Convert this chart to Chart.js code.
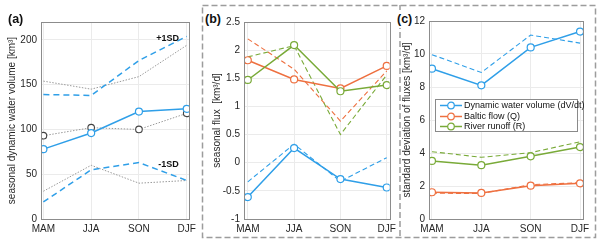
<!DOCTYPE html>
<html lang="en">
<head>
<meta charset="UTF-8">
<title>Seasonal fluxes</title>
<script src="https://cdn.jsdelivr.net/npm/chart.js"></script>
<style>
  body { margin: 0; background: #fff; font-family: "Liberation Sans", Arial, sans-serif; }
  #wrap { position: relative; width: 600px; height: 247px; overflow: hidden; }
  canvas { position: absolute; top: 0; }
  .lbl { position: absolute; font-weight: bold; font-size: 12.5px; color: #111; background: #fff; line-height: 14px; }
  #legend { position: absolute; left: 435px; top: 99px; width: 141px; height: 31px; border: 1px solid #8a8a8a; background: #fff; font-size: 9px; color: #111; }
  #legend div { height: 10.5px; line-height: 10.5px; white-space: nowrap; margin-top: 0; }
  #legend svg { vertical-align: middle; margin: 0 2px 0 4px; }
</style>
</head>
<body>
<div id="wrap">
  <svg width="600" height="247" style="position:absolute;left:0;top:0">
    <rect x="202.5" y="5.5" width="393" height="232" fill="none" stroke="#9c9c9c" stroke-width="1.5" stroke-dasharray="6 3"/>
    <line x1="400" y1="5" x2="400" y2="238" stroke="#9c9c9c" stroke-width="1.5" stroke-dasharray="6 3"/>
  </svg>
  <canvas id="ca" width="200" height="247" style="left:0"></canvas>
  <canvas id="cb" width="197" height="247" style="left:203px"></canvas>
  <canvas id="cc" width="196" height="247" style="left:400px"></canvas>
  <div class="lbl" style="left:8px;top:12px">(a)</div>
  <div class="lbl" style="left:205px;top:12px">(b)</div>
  <div class="lbl" style="left:396px;top:10px;padding:2px 1px">(c)</div>
  <div id="legend"></div>
</div>

<script>
  // seasons on the x axis
  const seasons = ['MAM', 'JJA', 'SON', 'DJF']

  // (a) seasonal dynamic water volume [km3]
  const volMean = [78, 96, 120, 123]
  const volPlus = [139, 138, 177, 204]
  const volMinus = [19, 55, 63, 43]
  const refMean = [93, 102, 100, 118]
  const refPlus = [154, 145, 159, 194]
  const refMinus = [31, 60, 40, 43]

  // (b) seasonal flux [km3/d], solid and dashed
  const fluxV = [-0.61, 0.26, -0.29, -0.44]
  const fluxVd = [-0.34, 0.33, -0.33, 0.09]
  const fluxQ = [1.82, 1.48, 1.32, 1.72]
  const fluxQd = [2.2, 1.66, 0.74, 1.63]
  const fluxR = [1.47, 2.09, 1.27, 1.38]
  const fluxRd = [1.88, 2.08, 0.5, 1.56]

  // (c) standard deviation of fluxes [km3/d]
  const sdV = [9.11, 8.1, 10.4, 11.36]
  const sdVd = [9.96, 8.88, 11.15, 10.66]
  const sdQ = [1.62, 1.58, 2.02, 2.16]
  const sdQd = [1.56, 1.55, 2.08, 2.2]
  const sdR = [3.52, 3.26, 3.8, 4.36]
  const sdRd = [4.08, 3.74, 4.02, 4.68]

  const blue = '#2f9fe8'
  const orange = '#ee7040'
  const green = '#79aa38'
  const font = { family: '"Liberation Sans", Arial, sans-serif', size: 10 }

  const pts = arr => arr.map((v, i) => ({ x: i, y: v }))

  function solid(arr, color) {
    return { data: pts(arr), borderColor: color, borderWidth: 1.5, pointRadius: 3.5,
      pointBorderWidth: 1.2, pointBackgroundColor: '#fff', pointBorderColor: color, tension: 0 }
  }
  function dashed(arr, color, w, dash) {
    return { data: pts(arr), borderColor: color, borderWidth: w, borderDash: dash, pointRadius: 0, tension: 0 }
  }

  // draws the full axes box like matlab
  const boxPlugin = {
    id: 'box',
    afterDraw(chart) {
      const a = chart.chartArea, c = chart.ctx
      c.save()
      c.strokeStyle = '#8c8c8c'
      c.lineWidth = 1
      c.strokeRect(Math.round(a.left) + 0.5, Math.round(a.top) + 0.5, Math.round(a.width), Math.round(a.height))
      c.restore()
    }
  }

  function makeChart(id, datasets, cfg) {
    return new Chart(document.getElementById(id), {
      type: 'line',
      data: { datasets },
      options: {
        responsive: false,
        animation: false,
        layout: { padding: { left: 0, right: cfg.right, top: cfg.top, bottom: 0 } },
        plugins: { legend: { display: false }, tooltip: { enabled: false } },
        scales: {
          x: {
            type: 'linear', min: cfg.xmin, max: cfg.xmax,
            afterBuildTicks: s => { s.ticks = seasons.map((_, i) => ({ value: i })) },
            afterFit: s => { s.height = 28 },
            ticks: { callback: v => seasons[v], font, color: '#262626', padding: 4, maxRotation: 0 },
            grid: { color: '#ebebeb', drawTicks: false },
            border: { display: false }
          },
          y: {
            min: cfg.ymin, max: cfg.ymax,
            afterBuildTicks: s => { s.ticks = cfg.yticks.map(v => ({ value: v })) },
            afterFit: s => { s.width = cfg.yw },
            ticks: { font, color: '#262626', padding: 4, callback: v => String(+v) },
            grid: { color: '#ebebeb', drawTicks: false },
            border: { display: false },
            title: { display: true, text: cfg.title, font, color: '#262626', padding: { top: cfg.tpad, bottom: 0 } }
          }
        }
      },
      plugins: [boxPlugin].concat(cfg.plugins || [])
    })
  }

  // +1SD / -1SD text in panel a
  const sdText = {
    id: 'sdText',
    afterDatasetsDraw(chart) {
      const c = chart.ctx, x = chart.scales.x, y = chart.scales.y
      c.save()
      c.font = 'bold 9px "Liberation Sans", Arial, sans-serif'
      c.fillStyle = '#111'
      c.textAlign = 'center'
      c.textBaseline = 'middle'
      c.fillText('+1SD', x.getPixelForValue(2.6), y.getPixelForValue(201))
      c.fillText('-1SD', x.getPixelForValue(2.62), y.getPixelForValue(61))
      c.restore()
    }
  }

  const grayDot = arr => ({ data: pts(arr), borderColor: '#9a9a9a', borderWidth: 1, borderDash: [1.5, 1.5], pointRadius: 0, tension: 0 })

  makeChart('ca', [
    solid(volMean, blue),
    dashed(volPlus, blue, 1.5, [6, 4]),
    dashed(volMinus, blue, 1.5, [6, 4]),
    Object.assign(grayDot(refMean), { pointRadius: 3.3, pointBorderWidth: 1.1, pointBorderColor: '#444', pointBackgroundColor: '#fff' }),
    grayDot(refPlus),
    grayDot(refMinus)
  ], { xmin: -0.05, xmax: 3.05, ymin: 0, ymax: 220, yticks: [0, 50, 100, 150, 200], yw: 41, right: 7, top: 22, tpad: 6,
    title: 'seasonal dynamic water volume [km³]', plugins: [sdText] })

  makeChart('cb', [
    solid(fluxR, green),
    solid(fluxQ, orange),
    solid(fluxV, blue),
    dashed(fluxRd, green, 1.1, [5, 3]),
    dashed(fluxQd, orange, 1.1, [5, 3]),
    dashed(fluxVd, blue, 1.1, [5, 3])
  ], { xmin: -0.082, xmax: 3.062, ymin: -1, ymax: 2.5, yticks: [-1, -0.5, 0, 0.5, 1, 1.5, 2, 2.5], yw: 41, right: 3, top: 22, tpad: 8,
    title: 'seasonal flux  [km³/d]' })

  makeChart('cc', [
    solid(sdV, blue),
    solid(sdQ, orange),
    solid(sdR, green),
    dashed(sdVd, blue, 1.1, [5, 3]),
    dashed(sdQd, orange, 1.1, [5, 3]),
    dashed(sdRd, green, 1.1, [5, 3])
  ], { xmin: -0.06, xmax: 3.06, ymin: 0, ymax: 12, yticks: [0, 2, 4, 6, 8, 10, 12], yw: 29, right: 13, top: 21, tpad: 1,
    title: 'standard deviation of fluxes [km³/d]' })

  // legend of panel c
  const legendItems = [['Dynamic water volume (dV/dt)', blue], ['Baltic flow (Q)', orange], ['River runoff (R)', green]]
  const leg = document.getElementById('legend')
  for (const [name, col] of legendItems) {
    const row = document.createElement('div')
    row.innerHTML = '<svg width="22" height="9"><line x1="0" y1="4.5" x2="22" y2="4.5" stroke="' + col + '" stroke-width="1.5"/>' +
      '<circle cx="11" cy="4.5" r="3.3" fill="#fff" stroke="' + col + '" stroke-width="1.2"/></svg>' + name
    leg.appendChild(row)
  }
</script>
</body>
</html>
